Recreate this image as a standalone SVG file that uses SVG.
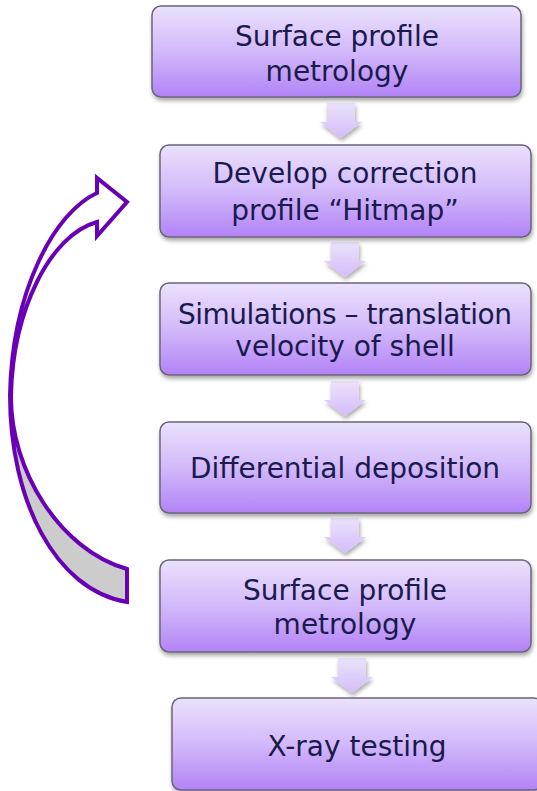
<svg xmlns="http://www.w3.org/2000/svg" width="537" height="791" viewBox="0 0 537 791">
<defs>
<linearGradient id="boxg" x1="0" y1="0" x2="0" y2="1">
<stop offset="0" stop-color="#ebe1fc"/>
<stop offset="0.5" stop-color="#d2b9fa"/>
<stop offset="1" stop-color="#b283f6"/>
</linearGradient>
<linearGradient id="arrg" x1="0" y1="0" x2="0" y2="1">
<stop offset="0" stop-color="#ebe2fc"/>
<stop offset="1" stop-color="#d3bdf9"/>
</linearGradient>
<filter id="sh" x="-10%" y="-10%" width="125%" height="130%">
<feGaussianBlur in="SourceAlpha" stdDeviation="2"/>
<feOffset dx="1" dy="3" result="b"/>
<feComponentTransfer><feFuncA type="linear" slope="0.35"/></feComponentTransfer>
<feMerge><feMergeNode/><feMergeNode in="SourceGraphic"/></feMerge>
</filter>
<clipPath id="topc"><rect x="0" y="0" width="160" height="450"/></clipPath>
<clipPath id="botc"><rect x="0" y="450" width="160" height="300"/></clipPath>
<path id="curve" d="M127,569 L127,602 C55,590 10,500 10,395 C12,290 55,212 97,193 L97,178 L127,202 L97,236 L97,222 C50,235 13,310 11,395 C10,470 60,550 127,569 Z"/>
</defs>
<style>
.box{fill:url(#boxg);stroke:#6e6478;stroke-width:1.5;filter:url(#sh)}
.t{font-family:"DejaVu Sans","Liberation Sans",sans-serif;font-size:28px;fill:#1b1a4e;text-anchor:middle}
.da{fill:url(#arrg);filter:url(#sh)}
</style>
<g id="connectors">
<path class="da" d="M327,103 h28 v19 h7 l-21,16 l-21,-16 h7 z"/>
<path class="da" d="M331,242 h28 v19 h7 l-21,16 l-21,-16 h7 z"/>
<path class="da" d="M331,381 h28 v19 h7 l-21,16 l-21,-16 h7 z"/>
<path class="da" d="M331,518 h28 v19 h7 l-21,16 l-21,-16 h7 z"/>
<path class="da" d="M338,658 h28 v19 h7 l-21,16 l-21,-16 h7 z"/>
<g id="loop-arrow">
<use href="#curve" fill="#ffffff" clip-path="url(#topc)"/>
<use href="#curve" fill="#cccccc" clip-path="url(#botc)"/>
<use href="#curve" fill="none" stroke="#6a00b6" stroke-width="4" stroke-linejoin="miter"/>
</g>
</g>
<g id="n1">
<rect class="box" x="152" y="6" width="369" height="91" rx="9"/>
<text class="t" x="337" y="46">Surface profile</text>
<text class="t" x="337" y="81">metrology</text>
</g>
<g id="n2">
<rect class="box" x="160" y="145" width="371" height="92" rx="9"/>
<text class="t" x="345" y="183">Develop correction</text>
<text class="t" x="345" y="220">profile “Hitmap”</text>
</g>
<g id="n3">
<rect class="box" x="160" y="283" width="371" height="92" rx="9"/>
<text class="t" x="345" y="324" textLength="334">Simulations – translation</text>
<text class="t" x="345" y="356">velocity of shell</text>
</g>
<g id="n4">
<rect class="box" x="160" y="422" width="371" height="91" rx="9"/>
<text class="t" x="345" y="478">Differential deposition</text>
</g>
<g id="n5">
<rect class="box" x="160" y="560" width="371" height="92" rx="9"/>
<text class="t" x="345" y="600">Surface profile</text>
<text class="t" x="345" y="634">metrology</text>
</g>
<g id="n6">
<rect class="box" x="172" y="698" width="371" height="92" rx="9"/>
<text class="t" x="357" y="756">X-ray testing</text>
</g>
</svg>
